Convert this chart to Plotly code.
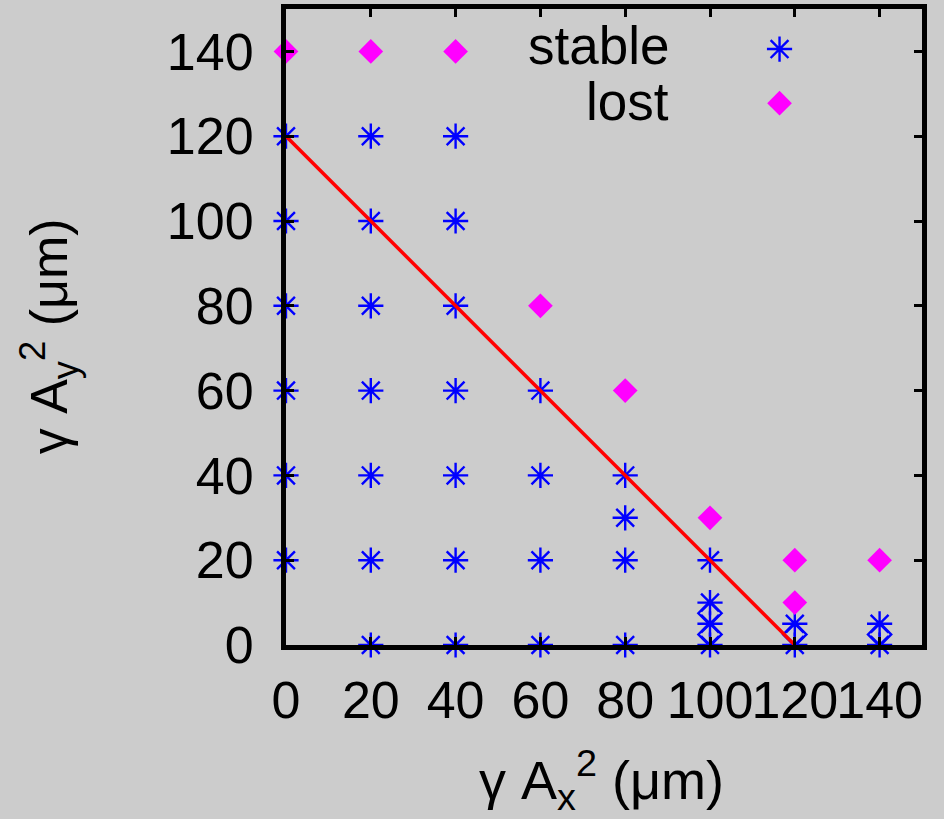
import plotly.graph_objects as go

# ---- data ----
stable_x = [0, 0, 0, 0, 0, 0,
            20, 20, 20, 20, 20, 20, 20,
            40, 40, 40, 40, 40, 40, 40,
            60, 60, 60, 60,
            80, 80, 80, 80,
            100, 100, 100, 100,
            120, 120,
            140, 140]
stable_y = [20, 40, 60, 80, 100, 120,
            0, 20, 40, 60, 80, 100, 120,
            0, 20, 40, 60, 80, 100, 120,
            0, 20, 40, 60,
            0, 20, 30, 40,
            0, 5, 10, 20,
            0, 5,
            0, 5]
lost_x = [0, 20, 40, 60, 80, 100, 120, 120, 140]
lost_y = [140, 140, 140, 80, 60, 30, 20, 10, 20]
open_x = [100, 100, 120, 140]
open_y = [2.5, 7.5, 2.5, 2.5]
line_x = [0, 120]
line_y = [120, 0]
tick_vals = [0, 20, 40, 60, 80, 100, 120, 140]
tick_text = ["0", "20", "40", "60", "80", "100", "120", "140"]

FONT = "Liberation Sans, Arial, sans-serif"
BG = "#cccccc"
BLUE = "#0000ff"
MAG = "#ff00ff"
STAR = dict(symbol="asterisk-open", size=21, color=BLUE, line=dict(width=2.4, color=BLUE))
DIAM = dict(symbol="diamond", size=19, color=MAG, line=dict(width=0))

fig = go.Figure()
fig.add_trace(go.Scatter(x=open_x, y=open_y, mode="markers", cliponaxis=False,
                         marker=dict(symbol="diamond-open", size=18, color=BLUE,
                                     line=dict(width=2.3, color=BLUE)),
                         showlegend=False))
fig.add_trace(go.Scatter(x=stable_x, y=stable_y, mode="markers", cliponaxis=False,
                         marker=STAR, showlegend=False))
fig.add_trace(go.Scatter(x=lost_x, y=lost_y, mode="markers", cliponaxis=False,
                         marker=DIAM, showlegend=False))
fig.add_trace(go.Scatter(x=line_x, y=line_y, mode="lines", cliponaxis=False,
                         line=dict(color="#ff0000", width=3.5),
                         showlegend=False))

# legend keys on an overlay axis in [0,1] coordinates
key_x = [0.776, 0.776]
key_y = [0.937, 0.852]
fig.add_trace(go.Scatter(x=key_x[:1], y=key_y[:1], xaxis="x2", yaxis="y2", mode="markers",
                         cliponaxis=False, marker=STAR, showlegend=False))
fig.add_trace(go.Scatter(x=key_x[1:], y=key_y[1:], xaxis="x2", yaxis="y2", mode="markers",
                         cliponaxis=False, marker=DIAM, showlegend=False))

axis_common = dict(
    range=[0, 150], tickmode="array", tickvals=tick_vals, ticktext=tick_text,
    ticks="inside", ticklen=8, tickwidth=3, tickcolor="black", tickangle=0,
    showline=True, linewidth=5, linecolor="black", mirror="ticks",
    showgrid=False, zeroline=False, automargin=False,
    tickfont=dict(family=FONT, size=52, color="black"),
)
fig.update_layout(
    width=944, height=819,
    margin=dict(l=286, r=22, t=9, b=174),
    paper_bgcolor=BG, plot_bgcolor=BG,
    xaxis=dict(**axis_common, ticklabelstandoff=6),
    yaxis=dict(**axis_common, ticklabelstandoff=17),
    xaxis2=dict(range=[0, 1], overlaying="x", visible=False, fixedrange=True),
    yaxis2=dict(range=[0, 1], overlaying="y", visible=False, fixedrange=True),
    showlegend=False,
    annotations=[
        dict(text="stable", x=0.605, y=0.943, xref="paper", yref="paper",
             xanchor="right", yanchor="middle", showarrow=False,
             font=dict(family=FONT, size=53, color="black")),
        dict(text="lost", x=0.605, y=0.855, xref="paper", yref="paper",
             xanchor="right", yanchor="middle", showarrow=False,
             font=dict(family=FONT, size=53, color="black")),
        dict(text="γ A<sub>x</sub><sup>2</sup> (μm)", x=0.496, y=-0.15,
             xref="paper", yref="paper", xanchor="center", yanchor="top",
             showarrow=False, font=dict(family=FONT, size=54, color="black")),
        dict(text="γ A<sub>y</sub><sup>2</sup> (μm)", x=-0.373, y=0.485,
             xref="paper", yref="paper", xanchor="center", yanchor="middle",
             textangle=-90, showarrow=False,
             font=dict(family=FONT, size=52, color="black")),
    ],
)
fig.write_html("out.html")
